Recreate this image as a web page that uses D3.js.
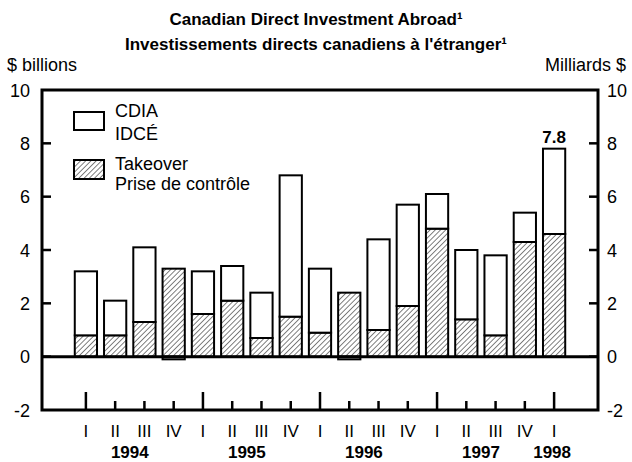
<!DOCTYPE html>
<html>
<head>
<meta charset="utf-8">
<script src="https://cdn.jsdelivr.net/npm/d3@7"></script>
<style>
  body { margin: 0; background: #fff; }
  text { font-family: "Liberation Sans", Arial, sans-serif; fill: #000; }
</style>
</head>
<body>
<svg id="chart"></svg>
<script>
var quarters = ["I","II","III","IV","I","II","III","IV","I","II","III","IV","I","II","III","IV","I"];
var years = ["1994","1995","1996","1997","1998"];
var cdia = [3.2, 2.1, 4.1, 3.2, 3.2, 3.4, 2.4, 6.8, 3.3, 2.3, 4.4, 5.7, 6.1, 4.0, 3.8, 5.4, 7.8];
var takeover = [0.8, 0.8, 1.3, 3.3, 1.6, 2.1, 0.7, 1.5, 0.9, 2.4, 1.0, 1.9, 4.8, 1.4, 0.8, 4.3, 4.6];
var yTicks = [-2, 0, 2, 4, 6, 8, 10];

var width = 632, height = 462;
var pLeft = 42, pRight = 598, pTop = 90, pBottom = 410;

var svg = d3.select("#chart").attr("width", width).attr("height", height);

// hatch pattern
var pat = svg.append("defs").append("pattern")
  .attr("id", "hatch")
  .attr("patternUnits", "userSpaceOnUse")
  .attr("width", 3.7).attr("height", 10)
  .attr("patternTransform", "rotate(45)");
pat.append("rect").attr("width", 3.7).attr("height", 10).attr("fill", "#fff");
pat.append("line").attr("x1", 0).attr("y1", 0).attr("x2", 0).attr("y2", 10)
  .attr("stroke", "#000").attr("stroke-width", 1);

var slot = (pRight - pLeft) / 19;
var x = d3.scaleBand()
  .domain(d3.range(quarters.length))
  .range([pLeft + slot, pRight - slot])
  .paddingInner(0.24).paddingOuter(0.12);

var y = d3.scaleLinear().domain([-2, 10]).range([pBottom, pTop]);

// titles
svg.append("text").attr("x", 316).attr("y", 25).attr("text-anchor", "middle")
  .attr("font-size", 17).attr("font-weight", "bold")
  .text("Canadian Direct Investment Abroad\u00b9");
svg.append("text").attr("x", 316).attr("y", 50).attr("text-anchor", "middle")
  .attr("font-size", 17).attr("font-weight", "bold")
  .text("Investissements directs canadiens \u00e0 l'\u00e9tranger\u00b9");
svg.append("text").attr("x", 7).attr("y", 71).attr("font-size", 18).text("$ billions");
svg.append("text").attr("x", 626).attr("y", 71).attr("text-anchor", "end")
  .attr("font-size", 18).text("Milliards $");

// y labels both sides
svg.selectAll(".yl").data(yTicks).enter().append("text")
  .attr("x", 30).attr("y", function(d){ return y(d) + 6.5; })
  .attr("text-anchor", "end").attr("font-size", 18)
  .text(function(d){ return d; });
svg.selectAll(".yr").data(yTicks).enter().append("text")
  .attr("x", 607).attr("y", function(d){ return y(d) + 6.5; })
  .attr("font-size", 18)
  .text(function(d){ return d; });

// inside ticks
var inner = yTicks.filter(function(d){ return d > -2 && d < 10; });
svg.selectAll(".tl").data(inner).enter().append("line")
  .attr("x1", pLeft).attr("x2", pLeft + 9)
  .attr("y1", function(d){ return y(d); }).attr("y2", function(d){ return y(d); })
  .attr("stroke", "#000").attr("stroke-width", 2.5);
svg.selectAll(".tr").data(inner).enter().append("line")
  .attr("x1", pRight - 9).attr("x2", pRight)
  .attr("y1", function(d){ return y(d); }).attr("y2", function(d){ return y(d); })
  .attr("stroke", "#000").attr("stroke-width", 2.5);

// bars
var bars = svg.selectAll(".bar").data(quarters).enter().append("g");
bars.append("rect")
  .attr("x", function(d, i){ return x(i); })
  .attr("width", x.bandwidth())
  .attr("y", function(d, i){ return y(takeover[i]); })
  .attr("height", function(d, i){ return y(0) - y(takeover[i]); })
  .attr("fill", "url(#hatch)").attr("stroke", "#000").attr("stroke-width", 2);
bars.append("rect")
  .attr("x", function(d, i){ return x(i); })
  .attr("width", x.bandwidth())
  .attr("y", function(d, i){
    var o = cdia[i] - takeover[i];
    return o >= 0 ? y(cdia[i]) : y(0);
  })
  .attr("height", function(d, i){
    var o = cdia[i] - takeover[i];
    return o >= 0 ? y(takeover[i]) - y(cdia[i]) : y(o) - y(0);
  })
  .attr("fill", "#fff").attr("stroke", "#000").attr("stroke-width", 2);

// value label on last bar
var last = quarters.length - 1;
svg.append("text").attr("x", x(last) + x.bandwidth() / 2).attr("y", y(cdia[last]) - 6)
  .attr("text-anchor", "middle").attr("font-size", 17).attr("font-weight", "bold")
  .text(cdia[last].toFixed(1));

// zero line
svg.append("line").attr("x1", pLeft).attr("x2", pRight)
  .attr("y1", y(0)).attr("y2", y(0))
  .attr("stroke", "#000").attr("stroke-width", 3);

// frame
svg.append("rect").attr("x", pLeft).attr("y", pTop)
  .attr("width", pRight - pLeft).attr("height", pBottom - pTop)
  .attr("fill", "none").attr("stroke", "#000").attr("stroke-width", 3);

// quarter ticks from bottom
svg.selectAll(".qt").data(quarters).enter().append("line")
  .attr("x1", function(d, i){ return x(i) + x.bandwidth() / 2; })
  .attr("x2", function(d, i){ return x(i) + x.bandwidth() / 2; })
  .attr("y1", pBottom)
  .attr("y2", function(d){ return d == "I" ? pBottom - 18 : pBottom - 9; })
  .attr("stroke", "#000").attr("stroke-width", 2.5);

svg.selectAll(".ql").data(quarters).enter().append("text")
  .attr("x", function(d, i){ return x(i) + x.bandwidth() / 2; })
  .attr("y", 437).attr("text-anchor", "middle").attr("font-size", 17)
  .text(function(d){ return d; });

svg.selectAll(".yrs").data(years).enter().append("text")
  .attr("x", function(d, i){
    if (i == years.length - 1) return x(i * 4) + x.bandwidth() / 2 - 2;
    return (x(i * 4 + 1) + x(i * 4 + 2)) / 2 + x.bandwidth() / 2;
  })
  .attr("y", 458).attr("text-anchor", "middle")
  .attr("font-size", 17).attr("font-weight", "bold")
  .text(function(d){ return d; });

// legend
svg.append("rect").attr("x", 74).attr("y", 112).attr("width", 30).attr("height", 18)
  .attr("fill", "#fff").attr("stroke", "#000").attr("stroke-width", 2);
svg.append("rect").attr("x", 74).attr("y", 160).attr("width", 30).attr("height", 19)
  .attr("fill", "url(#hatch)").attr("stroke", "#000").attr("stroke-width", 2);
svg.append("text").attr("x", 115).attr("y", 117).attr("font-size", 18).text("CDIA");
svg.append("text").attr("x", 115).attr("y", 140).attr("font-size", 18).text("IDC\u00c9");
svg.append("text").attr("x", 115).attr("y", 170).attr("font-size", 18).text("Takeover");
svg.append("text").attr("x", 115).attr("y", 190).attr("font-size", 18).text("Prise de contr\u00f4le");
</script>
</body>
</html>
